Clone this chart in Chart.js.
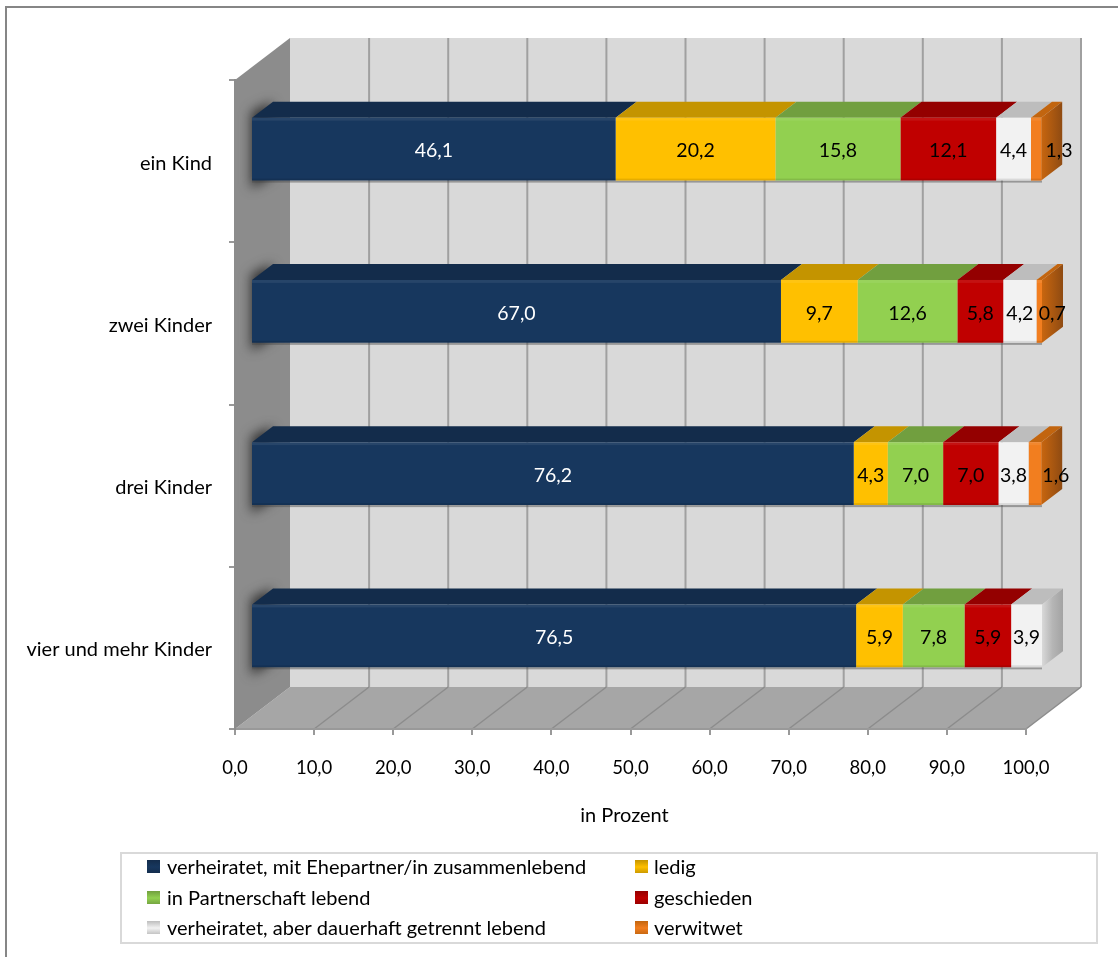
<!DOCTYPE html>
<html><head><meta charset="utf-8">
<style>html,body{margin:0;padding:0;background:#fff}#w{position:relative;width:1118px;height:957px}</style>
<script src="https://cdn.jsdelivr.net/npm/chart.js@4"></script></head>
<body><div id="w"><canvas id="c" width="1118" height="957"></canvas></div>
<script>
const categories = ["ein Kind","zwei Kinder","drei Kinder","vier und mehr Kinder"];
const seriesNames = ["verheiratet, mit Ehepartner/in zusammenlebend","ledig","in Partnerschaft lebend","geschieden","verheiratet, aber dauerhaft getrennt lebend","verwitwet"];
const verheiratet = [46.1,67.0,76.2,76.5];
const ledig = [20.2,9.7,4.3,5.9];
const partnerschaft = [15.8,12.6,7.0,7.8];
const geschieden = [12.1,5.8,7.0,5.9];
const getrennt = [4.4,4.2,3.8,3.9];
const verwitwet = [1.3,0.7,1.6,null];
const xTicks = [0,10,20,30,40,50,60,70,80,90,100];
const axisTitle = "in Prozent";
const frontColors = ["#17375e","#ffc000","#92d050","#c00000","#f2f2f2","#f27e1f"];
const topColors = ["#132c4b","#c49400","#719f3f","#940000","#bdbdbd","#c2650f"];
const labelColors = ["#fff","#000","#000","#000","#000","#000"];
const FONT = "Lato";
const planeShift = {x:16,y:-12};
const barDepth = {x:21,y:-16};
const wallDepth = {x:55,y:-42};
const lastLabelNudge = [23,13,21,0];
const deCH = v => v.toFixed(1).replace(".",",");

function poly(ctx,pts,fill){ctx.beginPath();pts.forEach((p,i)=>i?ctx.lineTo(p[0],p[1]):ctx.moveTo(p[0],p[1]));ctx.closePath();if(fill){ctx.fillStyle=fill;ctx.fill();}}

const threeD = {
  id:"threeD",
  beforeDraw(chart){
    const ctx=chart.ctx,a=chart.chartArea,xs=chart.scales.x,d=wallDepth;
    ctx.save();
    ctx.fillStyle="#fff";ctx.fillRect(0,0,1118,957);
    ctx.fillStyle="#868686";ctx.fillRect(5,6,1113,2);ctx.fillRect(5,6,2,951);
    poly(ctx,[[a.left+d.x,a.top+d.y],[a.right+d.x,a.top+d.y],[a.right+d.x,a.bottom+d.y],[a.left+d.x,a.bottom+d.y]],"#d9d9d9");
    poly(ctx,[[a.left,a.bottom],[a.left+d.x,a.bottom+d.y],[a.right+d.x,a.bottom+d.y],[a.right,a.bottom]],"#a6a6a6");
    poly(ctx,[[a.left,a.top],[a.left+d.x,a.top+d.y],[a.left+d.x,a.bottom+d.y],[a.left,a.bottom]],"#8c8c8c");
    ctx.save();
    poly(ctx,[[a.left,a.top],[a.left+d.x,a.top+d.y],[a.left+d.x,a.bottom+d.y],[a.left,a.bottom]]);ctx.clip();
    ctx.filter="blur(6px)";
    chart.getDatasetMeta(0).data.forEach(b=>{
      const t=b.y-b.height/2+planeShift.y,bo=b.y+b.height/2+planeShift.y,l=a.left+planeShift.x;
      poly(ctx,[[l,t-6],[l+barDepth.x,t-16],[l+barDepth.x,bo-4],[l,bo+8]],"rgba(40,40,40,.9)");
    });
    ctx.restore();
    xTicks.forEach(v=>{
      const x=xs.getPixelForValue(v);
      if(v>0){
        ctx.strokeStyle="#a0a0a0";ctx.lineWidth=2;
        ctx.beginPath();ctx.moveTo(x+d.x,a.top+d.y);ctx.lineTo(x+d.x,a.bottom+d.y);ctx.stroke();
        ctx.beginPath();ctx.lineWidth=1.5;ctx.strokeStyle="#8c8c8c";ctx.moveTo(x,a.bottom);ctx.lineTo(x+d.x,a.bottom+d.y);ctx.stroke();
      }
    });
    ctx.restore();
  },
  beforeDatasetsDraw(chart){
    const ctx=chart.ctx;
    ctx.save();
    ctx.translate(planeShift.x,planeShift.y);
    const e=barDepth;
    chart.data.datasets.forEach((ds,di)=>{
      chart.getDatasetMeta(di).data.forEach((b,i)=>{
        if(ds.data[i]==null) return;
        const l=b.base,r=b.x,t=b.y-b.height/2,bo=b.y+b.height/2;
        if(di===0){ctx.fillStyle="rgba(70,70,70,.45)";ctx.fillRect(l,bo,chart.scales.x.getPixelForValue(100)-l,2);}
        poly(ctx,[[l,t],[l+e.x,t+e.y],[r+e.x,t+e.y],[r,t]],topColors[di]);
        const isLast=di===5||(di===4&&chart.data.datasets[5].data[i]==null);
        if(isLast){
          const g=ctx.createLinearGradient(r,0,r+e.x,0);
          if(di===5){g.addColorStop(0,"#c8660f");g.addColorStop(1,"#8f4b12");}
          else{g.addColorStop(0,"#d9d9d9");g.addColorStop(.5,"#b5b5b5");g.addColorStop(1,"#a3a3a3");}
          poly(ctx,[[r,t],[r+e.x,t+e.y],[r+e.x,bo+e.y],[r,bo]],g);
        }
      });
    });
  },
  afterDatasetsDraw(chart){
    const ctx=chart.ctx;
    chart.data.datasets.forEach((ds,di)=>{
      chart.getDatasetMeta(di).data.forEach((b,i)=>{
        if(ds.data[i]==null) return;
        const l=b.base,r=b.x,t=b.y-b.height/2,bo=b.y+b.height/2;
        ctx.fillStyle="rgba(255,255,255,.07)";ctx.fillRect(l,t,r-l,3);
        ctx.fillStyle="rgba(0,0,0,.1)";ctx.fillRect(l,bo-2,r-l,2);
      });
    });
    ctx.restore();
    ctx.font=`19.5px ${FONT}`;ctx.textAlign="center";ctx.textBaseline="middle";
    chart.data.datasets.forEach((ds,di)=>{
      chart.getDatasetMeta(di).data.forEach((b,i)=>{
        if(ds.data[i]==null) return;
        const cx=(b.base+b.x)/2+planeShift.x+(di===5?lastLabelNudge[i]:0);
        ctx.fillStyle=labelColors[di];
        ctx.fillText(deCH(ds.data[i]),cx,b.y+planeShift.y+2);
      });
    });
    ctx.font=`20px ${FONT}`;ctx.fillStyle="#000";
    ctx.fillText(axisTitle,624.5,816);
    ctx.strokeStyle="#d9d9d9";ctx.lineWidth=2;ctx.strokeRect(121,853,976,90);
    const rows=[867,898,928],cols=[147,635];
    ctx.textAlign="left";
    seriesNames.forEach((n,k)=>{
      const x=cols[k%2],y=rows[Math.floor(k/2)];
      const g=ctx.createLinearGradient(0,y-7,0,y+7);
      g.addColorStop(0,topColors[k]);g.addColorStop(.5,frontColors[k]);g.addColorStop(1,topColors[k]);
      ctx.fillStyle=g;ctx.fillRect(x,y-7,13,13);
      ctx.fillStyle="#000";ctx.fillText(n,x+(k%2?19:20),y+1);
    });
  }
};

new Chart(document.getElementById("c"),{
  type:"bar",
  data:{labels:categories,datasets:[verheiratet,ledig,partnerschaft,geschieden,getrennt,verwitwet].map((d,i)=>({
    label:seriesNames[i],data:d,backgroundColor:frontColors[i],borderWidth:0,categoryPercentage:1,barPercentage:0.388}))},
  options:{
    indexAxis:"y",responsive:false,animation:false,
    layout:{padding:{top:80,right:92,left:0,bottom:0}},
    plugins:{legend:{display:false},tooltip:{enabled:false}},
    scales:{
      x:{stacked:true,min:0,max:100,afterFit:s=>{s.height=228},
        afterBuildTicks:s=>{s.ticks=xTicks.map(v=>({value:v}))},
        grid:{drawOnChartArea:false,tickLength:6,color:"#999",lineWidth:2},
        border:{color:"#999",width:2},
        ticks:{padding:22,maxRotation:0,autoSkip:false,color:"#000",font:{family:FONT,size:18.5},callback:v=>deCH(v)}},
      y:{stacked:true,afterFit:s=>{s.width=235},
        grid:{drawOnChartArea:false,tickLength:6,color:"#999",lineWidth:2},
        border:{color:"#8c8c8c",width:2},
        ticks:{padding:17,labelOffset:2,color:"#000",font:{family:FONT,size:20}}}
    }
  },
  plugins:[threeD]
});
</script></body></html>
